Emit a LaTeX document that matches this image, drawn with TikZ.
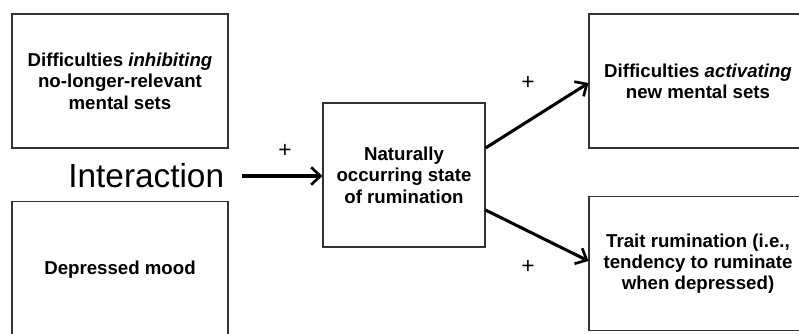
\documentclass[tikz,border=0pt]{standalone}
\usepackage{fontspec}
\setmainfont{Liberation Sans}
\usetikzlibrary{arrows.meta}
\begin{document}
\begin{tikzpicture}[x=0.75pt,y=-0.75pt,
  box/.style={draw=black!80, line width=0.8pt, inner sep=0pt, align=center,
    font=\bfseries\fontsize{14}{16}\selectfont},
  conn/.style={line width=2.3pt, -{Straight Barb[length=7pt,width=13pt,line width=2pt]}},
  plus/.style={font=\fontsize{17}{19}\selectfont}]
\useasboundingbox (0,0) rectangle (799,333);
\clip (0,0) rectangle (799,333);
\fill[white] (0,0) rectangle (799,333);
\node[box, minimum width=162pt, minimum height=100.5pt] (A) at (120,81)
  {Difficulties \textit{inhibiting}\\no-longer-relevant\\mental sets};
\node[box, minimum width=162pt, minimum height=103pt] (B) at (120,270)
  {Depressed mood};
\node[font=\fontsize{25}{28}\selectfont, inner sep=2pt, anchor=east] (I) at (227,176) {Interaction};
\node[box, minimum width=121.5pt, minimum height=108pt] (C) at (404,175)
  {Naturally\\occurring state\\of rumination};
\node[box, minimum width=163.5pt, minimum height=100.5pt] (D) at (698,81)
  {Difficulties \textit{activating}\\new mental sets};
\node[box, minimum width=163.5pt, minimum height=100pt] (E) at (698,263.5)
  {Trait rumination (i.e.,\\tendency to ruminate\\when depressed)};
\coordinate (c1) at (C.east |- 0,148);
\coordinate (c2) at (C.east |- 0,210);
\coordinate (d1) at (D.west |- 0,83);
\coordinate (e1) at (E.west |- 0,261);
\coordinate (i1) at (242,176);
\draw[conn] (i1) -- (C.west |- i1);
\draw[conn] (c1) -- (d1);
\draw[conn] (c2) -- (e1);
\node[plus] (p1) at (285,151) {+};
\node[plus] (p2) at (528,83) {+};
\node[plus] (p3) at (528,267) {+};
\end{tikzpicture}
\end{document}
